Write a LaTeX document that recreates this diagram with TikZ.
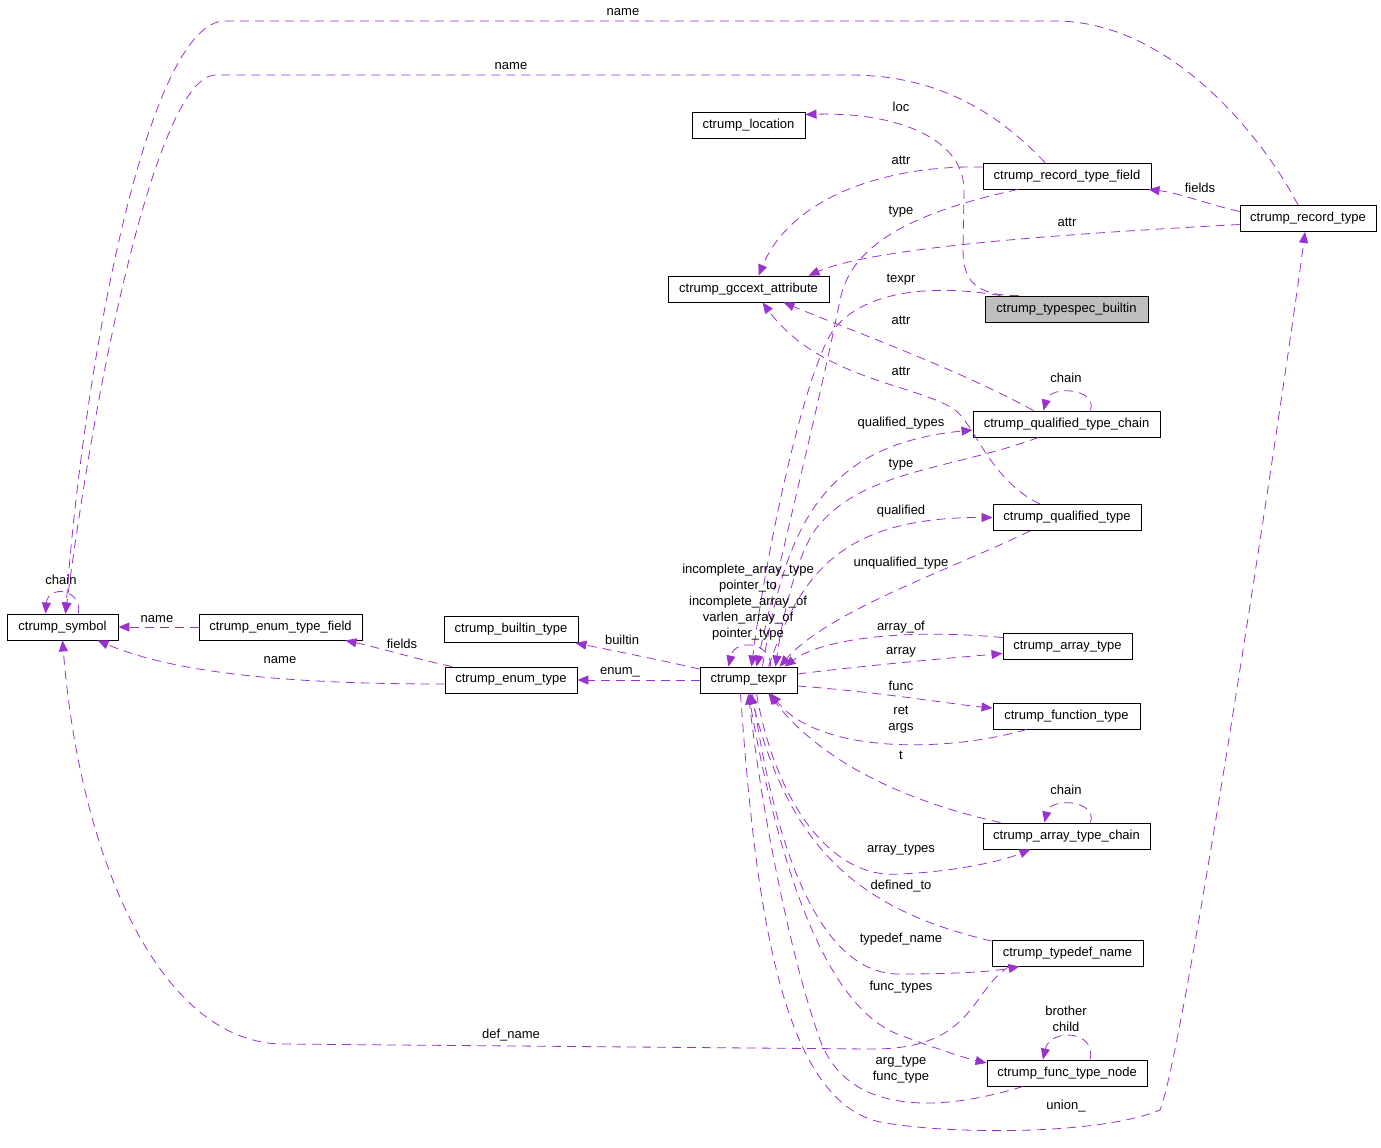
\documentclass[tikz,border=0pt]{standalone}
\usepackage{fontspec}
\setmainfont{Liberation Sans}
\usetikzlibrary{arrows.meta}
\definecolor{purp}{RGB}{154,50,205}
\definecolor{grayfill}{RGB}{191,191,191}
\begin{document}
\begin{tikzpicture}[x=1pt,y=-1pt,
  box/.style={draw=black, line width=0.9pt, minimum height=26pt, inner sep=0pt, font=\fontsize{13}{16}\selectfont},
  edge/.style={draw=purp, line width=0.8pt, dash pattern=on 9pt off 6pt, -{Triangle[length=11pt,width=9pt]}},
  lbl/.style={inner sep=0pt, align=center, font=\fontsize{13}{16}\selectfont}]
\useasboundingbox[fill=white] (0,0) rectangle (1381,1148);

% nodes
\node[box, minimum width=111pt] (sym) at (62.5,627) {ctrump\_symbol};
\node[box, minimum width=163pt] (etf) at (280.5,627) {ctrump\_enum\_type\_field};
\node[box, minimum width=134pt] (bt) at (511,629.5) {ctrump\_builtin\_type};
\node[box, minimum width=132pt] (et) at (511,680) {ctrump\_enum\_type};
\node[box, minimum width=97pt] (tx) at (748.5,680) {ctrump\_texpr};
\node[box, minimum width=113pt] (loc) at (748.5,125.5) {ctrump\_location};
\node[box, minimum width=161pt] (gcc) at (748.5,289) {ctrump\_gccext\_attribute};
\node[box, minimum width=168pt] (rtf) at (1067,176) {ctrump\_record\_type\_field};
\node[box, minimum width=136pt] (rt) at (1308,218.5) {ctrump\_record\_type};
\node[box, minimum width=163pt, fill=grayfill] (tsb) at (1066.5,309) {ctrump\_typespec\_builtin};
\node[box, minimum width=187pt] (qtc) at (1066.5,424) {ctrump\_qualified\_type\_chain};
\node[box, minimum width=148pt] (qt) at (1067,517.5) {ctrump\_qualified\_type};
\node[box, minimum width=129pt] (arr) at (1067.5,646.5) {ctrump\_array\_type};
\node[box, minimum width=147pt] (ft) at (1066.5,716) {ctrump\_function\_type};
\node[box, minimum width=167pt] (atc) at (1066.5,836) {ctrump\_array\_type\_chain};
\node[box, minimum width=151pt] (tdn) at (1067.5,953) {ctrump\_typedef\_name};
\node[box, minimum width=160pt] (ftn) at (1067,1073) {ctrump\_func\_type\_node};

% edges
\draw[edge] ([xshift=-10pt]rt.north) .. controls (1270,150) and (1180,25) .. (1060,21) -- (225,21) .. controls (150,21) and (85,350) .. ([xshift=3pt]sym.north);
\draw[edge] ([xshift=-22pt]rtf.north) .. controls (1000,115) and (940,75) .. (850,75) -- (215,75) .. controls (160,78) and (100,350) .. ([xshift=3pt]sym.north);
\draw[edge] ([yshift=7pt]rt.west) .. controls (1210,205) and (1180,193) .. ([xshift=-3pt]rtf.south east);
\draw[edge] ([yshift=-6pt]rt.west) .. controls (1100,232) and (880,245) .. ([xshift=60pt]gcc.north);
\draw[edge] ([yshift=9pt]rtf.west) .. controls (880,165) and (790,200) .. ([xshift=10pt]gcc.north);
\draw[edge] ([xshift=-49pt]rtf.south) .. controls (900,215) and (850,250) .. (840,300) .. controls (820,400) and (780,560) .. ([xshift=8pt]tx.north);
\draw[edge] ([xshift=-48pt]tsb.north) .. controls (975,296) and (963,280) .. (963,250) -- (964,190) .. controls (964,140) and (900,112) .. ([yshift=11pt]loc.east);
\draw[edge] ([xshift=-66pt]tsb.north) .. controls (920,282) and (855,295) .. (830,335) .. controls (800,390) and (765,560) .. ([xshift=3pt]tx.north);
\draw[edge] ([xshift=-33pt]qtc.north) .. controls (960,370) and (850,330) .. ([xshift=35pt]gcc.south);
\draw[edge] ([xshift=-27pt]qt.north) .. controls (990,480) and (975,425) .. (955,410) .. controls (920,385) and (820,380) .. ([xshift=14pt]gcc.south);
\draw[edge] ([xshift=24pt]qtc.north) .. controls (1098,388) and (1050,385) .. ([xshift=-23pt]qtc.north);
\draw[edge] ([xshift=14pt]tx.north) .. controls (785,530) and (820,445) .. ([yshift=-6pt]qtc.west);
\draw[edge] ([xshift=-28pt]qtc.south) .. controls (950,470) and (860,470) .. (815,530) .. controls (795,560) and (782,620) .. ([xshift=27pt]tx.north);
\draw[edge] ([xshift=20pt]tx.north) .. controls (800,575) and (840,517) .. (qt.west);
\draw[edge] ([xshift=-37pt]qt.south) .. controls (950,570) and (830,610) .. ([xshift=31pt]tx.north);
\draw[edge] ([xshift=22pt]tx.north) .. controls (772,642) and (735,638) .. ([xshift=-20pt]tx.north);
\draw[edge] ([yshift=9pt]arr.west) .. controls (900,628) and (820,640) .. ([xshift=36pt]tx.north);
\draw[edge] ([yshift=6pt]tx.east) .. controls (870,665) and (950,658) .. ([yshift=-7pt]arr.west);
\draw[edge] ([yshift=-6pt]tx.east) .. controls (880,692) and (950,704) .. ([yshift=8pt]ft.west);
\draw[edge] ([xshift=-40pt]ft.south) .. controls (950,752) and (820,755) .. ([xshift=22pt]tx.south);
\draw[edge] ([xshift=-66pt]atc.north) .. controls (900,800) and (820,760) .. ([xshift=20pt]tx.south);
\draw[edge] ([xshift=24pt]atc.north) .. controls (1098,800) and (1050,797) .. ([xshift=-22pt]atc.north);
\draw[edge] ([xshift=8pt]tx.south) .. controls (775,800) and (830,880) .. (900,874) .. controls (950,872) and (1000,862) .. ([xshift=-36pt]atc.south);
\draw[edge] ([yshift=12pt]tdn.west) .. controls (860,910) and (790,850) .. ([xshift=2pt]tx.south);
\draw[edge] ([xshift=4pt]tx.south) .. controls (775,850) and (820,975) .. (900,974) .. controls (950,974) and (990,972) .. ([xshift=-48pt]tdn.south);
\draw[edge] ([xshift=-58pt]tdn.south) .. controls (970,990) and (975,1050) .. (870,1049) -- (280,1044) .. controls (160,1040) and (80,860) .. (sym.south);
\draw[edge] (tx.south) .. controls (780,880) and (830,1010) .. (900,1035) .. controls (940,1050) and (965,1058) .. ([yshift=10pt]ftn.west);
\draw[edge] ([xshift=-44pt]ftn.south) .. controls (930,1115) and (850,1110) .. (822,1045) .. controls (790,960) and (760,800) .. ([xshift=0pt]tx.south);
\draw[edge] ([xshift=23pt]ftn.north) .. controls (1097,1030) and (1050,1028) .. ([xshift=-24pt]ftn.north);
\draw[edge] ([xshift=-8pt]tx.south) .. controls (755,900) and (780,1100) .. (880,1122) .. controls (950,1135) and (1100,1135) .. (1160,1110) .. controls (1185,1050) and (1290,350) .. ([xshift=-3pt]rt.south);
\draw[edge] ([yshift=11pt]tx.west) .. controls (660,660) and (620,652) .. ([xshift=-3pt]bt.south east);
\draw[edge] (tx.west) -- (et.east);
\draw[edge] ([xshift=-59pt]et.north) .. controls (420,660) and (380,648) .. ([xshift=-17pt]etf.south east);
\draw[edge] ([yshift=-4pt]et.west) .. controls (300,684) and (180,675) .. ([xshift=35pt]sym.south);
\draw[edge] (etf.west) -- (sym.east);
\draw[edge] ([xshift=16pt]sym.north) .. controls (82,588) and (48,585) .. ([xshift=-17pt]sym.north);

% labels
\node[lbl] (l1) at (623,12) {name};
\node[lbl] (l2) at (511,66) {name};
\node[lbl] (l3) at (901,107) {loc};
\node[lbl] (l4) at (901,160) {attr};
\node[lbl] (l5) at (1200,188) {fields};
\node[lbl] (l6) at (901,212) {type};
\node[lbl] (l7) at (1067,222) {attr};
\node[lbl] (l8) at (901,280) {texpr};
\node[lbl] (l9) at (901,320) {attr};
\node[lbl] (l10) at (901,371) {attr};
\node[lbl] (l11) at (1066,378) {chain};
\node[lbl] (l12) at (901,423) {qualified\_types};
\node[lbl] (l13) at (901,465) {type};
\node[lbl] (l14) at (901,511) {qualified};
\node[lbl] (l15) at (901,563) {unqualified\_type};
\node[lbl] (l16) at (748,602) {incomplete\_array\_type\\pointer\_to\\incomplete\_array\_of\\varlen\_array\_of\\pointer\_type};
\node[lbl] (l17) at (901,627) {array\_of};
\node[lbl] (l18) at (901,652) {array};
\node[lbl] (l19) at (901,686) {func};
\node[lbl] (l20) at (901,720) {ret\\args};
\node[lbl] (l21) at (901,755) {t};
\node[lbl] (l22) at (1066,790) {chain};
\node[lbl] (l23) at (901,850) {array\_types};
\node[lbl] (l24) at (901,886) {defined\_to};
\node[lbl] (l25) at (901,939) {typedef\_name};
\node[lbl] (l26) at (901,987) {func\_types};
\node[lbl] (l27) at (1066,1019) {brother\\child};
\node[lbl] (l28) at (511,1035) {def\_name};
\node[lbl] (l29) at (901,1070) {arg\_type\\func\_type};
\node[lbl] (l30) at (1066,1106) {union\_};
\node[lbl] (l31) at (61,580) {chain};
\node[lbl] (l32) at (157,619) {name};
\node[lbl] (l33) at (402,644) {fields};
\node[lbl] (l34) at (280,660) {name};
\node[lbl] (l35) at (622,640) {builtin};
\node[lbl] (l36) at (620,672) {enum\_};
\end{tikzpicture}
\end{document}
